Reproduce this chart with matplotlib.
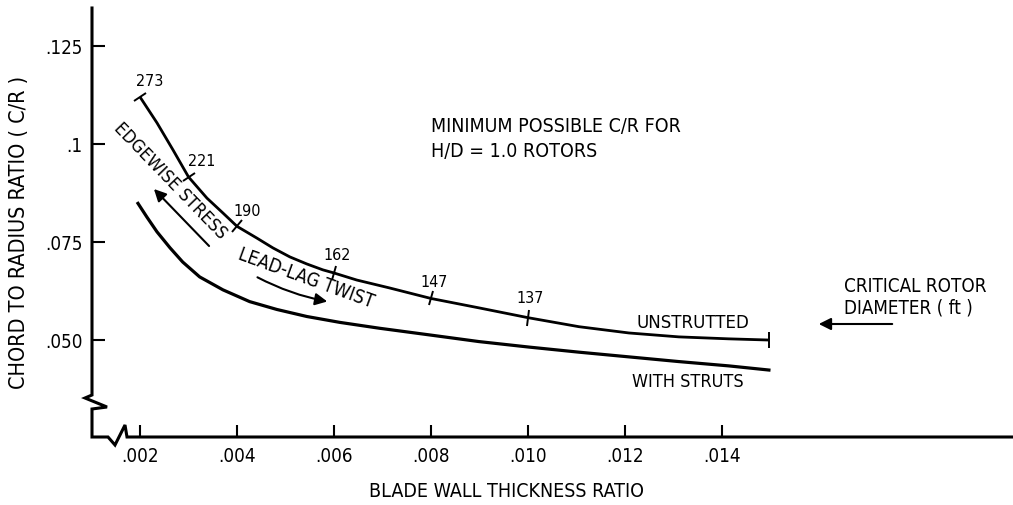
import matplotlib.pyplot as plt
import numpy as np
from matplotlib.markers import MarkerStyle
from matplotlib.transforms import Affine2D

# values
thickness_unstrutted = [0.00200, 0.00235, 0.00268, 0.00300, 0.00338, 0.00371, 0.00400,
                        0.00441, 0.00474, 0.00509, 0.00544, 0.00577, 0.00600, 0.00647,
                        0.00714, 0.00800, 0.00899, 0.01000, 0.01105, 0.01208, 0.01311,
                        0.01414, 0.01496]
cr_unstrutted = [0.1120, 0.1054, 0.0985, 0.0916, 0.0862, 0.0824, 0.0790,
                 0.0760, 0.0735, 0.0712, 0.0694, 0.0679, 0.0671, 0.0653,
                 0.0633, 0.0606, 0.0582, 0.0557, 0.0534, 0.0518, 0.0508,
                 0.0503, 0.0500]

thickness_struts = [0.00194, 0.00214, 0.00235, 0.00262, 0.00288, 0.00323, 0.00371,
                    0.00426, 0.00482, 0.00544, 0.00612, 0.00694, 0.00797, 0.00899,
                    0.01002, 0.01105, 0.01208, 0.01311, 0.01414, 0.01500]
cr_struts = [0.0852, 0.0814, 0.0776, 0.0735, 0.0699, 0.0661, 0.0628,
             0.0598, 0.0578, 0.0560, 0.0545, 0.0530, 0.0513, 0.0496,
             0.0482, 0.0469, 0.0457, 0.0445, 0.0434, 0.0423]

diam_thickness = [0.002, 0.003, 0.004, 0.006, 0.008, 0.010]
diam_cr = [0.1120, 0.0916, 0.0790, 0.0671, 0.0606, 0.0557]
diam_labels = ["273", "221", "190", "162", "147", "137"]

x_ticks = [0.002, 0.004, 0.006, 0.008, 0.010, 0.012, 0.014]
x_tick_labels = [".002", ".004", ".006", ".008", ".010", ".012", ".014"]
y_ticks = [0.050, 0.075, 0.100, 0.125]
y_tick_labels = [".050", ".075", ".1", ".125"]

plt.rcParams["font.family"] = ["DejaVu Sans"]
plt.rcParams["font.stretch"] = "condensed"

W, H = 1013, 505


def fig_xy(px, py):
    # reference pixel -> figure fraction
    return px / W, 1 - py / H


def ax_xy(px, py):
    # reference pixel -> axes fraction
    return (px - 92) / (W - 92), (437 - py) / (437 - 8)


fig = plt.figure(figsize=(W / 100, H / 100), dpi=100)
ax = fig.add_axes([92 / W, 1 - 437 / H, (W - 92) / W, (437 - 8) / H])
ax.set_xlim(0.00101, 0.0200)
ax.set_ylim(0.02526, 0.1347)

for s in ax.spines.values():
    s.set_visible(False)

# axis lines with break marks
axis_px = [(92, 8), (92, 395), (85, 398), (107, 407), (92, 409), (92, 437),
           (108, 437), (115, 445), (125, 425), (127, 437), (1013, 437)]
axis_pts = np.array([ax_xy(*p) for p in axis_px])
ax.plot(axis_pts[:, 0], axis_pts[:, 1], color="black", lw=2.2,
        transform=ax.transAxes, clip_on=False, solid_joinstyle="miter")

ax.set_xticks(x_ticks, x_tick_labels)
ax.set_yticks(y_ticks, y_tick_labels)
ax.tick_params(direction="in", length=9, width=1.5, labelsize=13.5, colors="black")
ax.tick_params(axis="x", pad=7)
ax.tick_params(axis="y", pad=7)

ax.plot(thickness_unstrutted, cr_unstrutted, color="black", lw=2.0,
        solid_capstyle="butt", solid_joinstyle="round")
ax.plot(thickness_struts, cr_struts, color="black", lw=2.3,
        solid_capstyle="butt", solid_joinstyle="round")

# tick marks across the unstrutted curve, perpendicular to it
fig.canvas.draw()
pix = ax.transData.transform(np.column_stack([thickness_unstrutted, cr_unstrutted]))
for xv, yv in zip(diam_thickness + [thickness_unstrutted[-1]],
                  diam_cr + [cr_unstrutted[-1]]):
    p = ax.transData.transform((xv, yv))
    i = np.argmin(np.hypot(pix[:, 0] - p[0], pix[:, 1] - p[1]))
    a = pix[max(i - 1, 0)]
    b = pix[min(i + 1, len(pix) - 1)]
    ang = np.degrees(np.arctan2(b[1] - a[1], b[0] - a[0]))
    if xv == thickness_unstrutted[-1]:
        ang = 0
    m = MarkerStyle("|", transform=Affine2D().rotate_deg(ang))
    ax.plot([xv], [yv], marker=m, markersize=11, mew=1.4, color="black")

label_offsets = [(7.2, 7.9), (9.4, 7.9), (7.2, 7.2), (2.2, 9.4), (2.2, 7.9), (1.4, 10.8)]
for xv, yv, lab, off in zip(diam_thickness, diam_cr, diam_labels, label_offsets):
    ax.annotate(lab, (xv, yv), xytext=off, textcoords="offset points",
                ha="center", va="baseline", fontsize=11.5)

# text labels
ax.set_xlabel("BLADE WALL THICKNESS RATIO", fontsize=14)
ax.xaxis.set_label_coords(*ax_xy(506, 482))
ax.set_ylabel("CHORD TO RADIUS RATIO ( C/R )", fontsize=15.5)
ax.yaxis.set_label_coords(*ax_xy(29, 232))

fig.text(*fig_xy(431, 132), "MINIMUM POSSIBLE C/R FOR", fontsize=14,
         ha="left", va="baseline")
fig.text(*fig_xy(431, 157), "H/D = 1.0 ROTORS", fontsize=14,
         ha="left", va="baseline")
fig.text(*fig_xy(636, 328), "UNSTRUTTED", fontsize=13.3, ha="left", va="baseline")
fig.text(*fig_xy(632, 387), "WITH STRUTS", fontsize=13, ha="left", va="baseline")
fig.text(*fig_xy(844, 313), "CRITICAL ROTOR\nDIAMETER ( ft )", fontsize=13.5,
         ha="left", va="baseline", linespacing=1.12)
ax.annotate("", xy=fig_xy(816, 324), xytext=fig_xy(895, 324),
            xycoords="figure fraction", textcoords="figure fraction",
            arrowprops=dict(arrowstyle="-|>", color="black", lw=1.5,
                            mutation_scale=18))

fig.text(*fig_xy(170, 181), "EDGEWISE STRESS", fontsize=13, rotation=-46,
         ha="center", va="center", rotation_mode="anchor")
ax.annotate("", xy=fig_xy(152, 187), xytext=fig_xy(211, 248),
            xycoords="figure fraction", textcoords="figure fraction",
            arrowprops=dict(arrowstyle="-|>", color="black", lw=1.5,
                            mutation_scale=18))

fig.text(*fig_xy(306, 278), "LEAD-LAG TWIST", fontsize=13.5, rotation=-20,
         ha="center", va="center", rotation_mode="anchor")
ax.annotate("", xy=fig_xy(330, 302), xytext=fig_xy(255, 276),
            xycoords="figure fraction", textcoords="figure fraction",
            arrowprops=dict(arrowstyle="-|>", color="black", lw=1.5,
                            mutation_scale=18, connectionstyle="arc3,rad=0.08"))

fig.savefig("out.png", dpi=100)
